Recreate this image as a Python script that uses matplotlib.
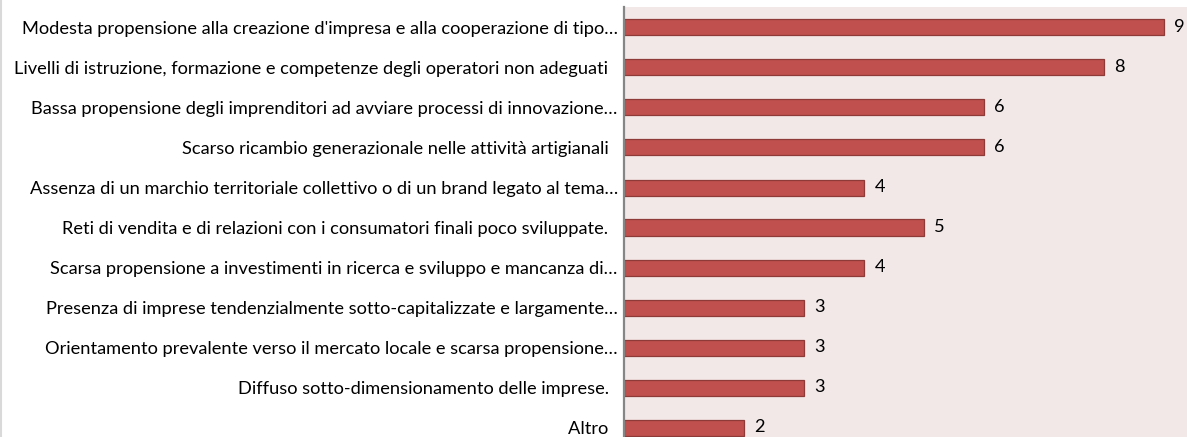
import matplotlib
matplotlib.use('Agg')
import matplotlib.pyplot as plt
from matplotlib.lines import Line2D

categories = [
    "Modesta propensione alla creazione d'impresa e alla cooperazione di tipo…",
    "Livelli di istruzione, formazione e competenze degli operatori non adeguati  ",
    "Bassa propensione degli imprenditori ad avviare processi di innovazione…",
    "Scarso ricambio generazionale nelle attività artigianali  ",
    "Assenza di un marchio territoriale collettivo o di un brand legato al tema…",
    "Reti di vendita e di relazioni con i consumatori finali poco sviluppate.  ",
    "Scarsa propensione a investimenti in ricerca e sviluppo e mancanza di…",
    "Presenza di imprese tendenzialmente sotto-capitalizzate e largamente…",
    "Orientamento prevalente verso il mercato locale e scarsa propensione…",
    "Diffuso sotto-dimensionamento delle imprese.  ",
    "Altro  ",
]
values = [9, 8, 6, 6, 4, 5, 4, 3, 3, 3, 2]

FIG_W, FIG_H, DPI = 1187, 437, 100
plt.rcParams['font.family'] = ['Lato', 'DejaVu Sans']

fig = plt.figure(figsize=(FIG_W / DPI, FIG_H / DPI), dpi=DPI)
fig.patch.set_facecolor('white')

n = len(categories)
band = 40.0
top_px = 7.5
left_px = 624.0
unit_px = 60.0
xmax = 10
ax = fig.add_axes([left_px / FIG_W,
                   1 - (top_px + band * n) / FIG_H,
                   unit_px * xmax / FIG_W,
                   band * n / FIG_H])
ax.set_xlim(0, xmax)
ax.set_ylim(n - 0.5, -0.5)
ax.set_facecolor('#F2E8E8')

ax.barh(range(n), values, height=0.4, color='#C0504D',
        edgecolor='#8E3A38', linewidth=0.9, zorder=2)

for s in ['top', 'right', 'bottom']:
    ax.spines[s].set_visible(False)
ax.spines['left'].set_color('#868686')
ax.spines['left'].set_linewidth(1.6)
ax.set_xticks([])
ax.set_yticks(range(n))
fs = 12
ax.set_yticklabels(categories, fontsize=fs, color='#000000')
ax.tick_params(axis='y', length=0, pad=4.5)

# fit font size so that the first label spans about 595 px
fig.canvas.draw()
r = fig.canvas.get_renderer()
w = ax.get_yticklabels()[0].get_window_extent(r).width
fs = fs * 595.0 / w
for t in ax.get_yticklabels():
    t.set_fontsize(fs)

for i, v in enumerate(values):
    ax.annotate(str(v), (v, i), xytext=(7.5, 0), textcoords='offset points',
                va='center', ha='left', fontsize=fs, color='#000000')

fig.add_artist(Line2D([0.8 / FIG_W, 0.8 / FIG_W], [0, 1], color='#D9D9D9',
                      lw=1.5, transform=fig.transFigure))

fig.savefig('out.png', dpi=DPI)
